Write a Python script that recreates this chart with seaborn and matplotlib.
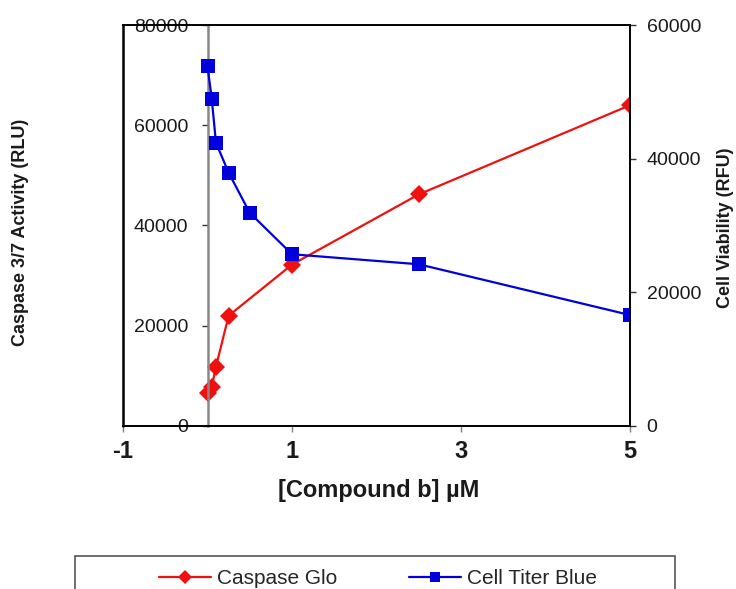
import matplotlib
matplotlib.use("Agg")
import matplotlib.pyplot as plt
from matplotlib.patches import Rectangle
import seaborn as sns
import pandas as pd

# ---- data ----
conc_caspase = [0.0, 0.05, 0.1, 0.25, 1.0, 2.5, 5.0]
caspase_rlu = [6600, 7800, 11800, 22000, 32200, 46200, 64000]

conc_ctb = [0.0, 0.05, 0.1, 0.25, 0.5, 1.0, 2.5, 5.0]
ctb_rfu = [53800, 49000, 42400, 37900, 31900, 25700, 24200, 16600]

x_ticks = [-1, 1, 3, 5]
left_ticks = [0, 20000, 40000, 60000, 80000]
right_ticks = [0, 20000, 40000, 60000]

sns.set_theme(style="white")
plt.rcParams['font.family'] = ['Liberation Sans', 'DejaVu Sans']

df_c = pd.DataFrame({"conc": conc_caspase, "val": caspase_rlu})
df_b = pd.DataFrame({"conc": conc_ctb, "val": ctb_rfu})

fig = plt.figure(figsize=(7.36, 5.89), dpi=100)
ax = fig.add_axes([123/736, 1-426/589, (630-123)/736, (426-25)/589])
ax2 = ax.twinx()

red = "#f01010"
blue = "#0000dd"

sns.lineplot(data=df_c, x="conc", y="val", ax=ax, color=red, marker="D",
             markersize=9, markeredgewidth=0, linewidth=1.6, label="Caspase Glo",
             legend=False)
sns.lineplot(data=df_b, x="conc", y="val", ax=ax2, color=blue, marker="s",
             markersize=10.5, markeredgewidth=0, linewidth=1.6, label="Cell Titer Blue",
             legend=False)

# left axis crosses at x = 0 (gray line), plot frame at x = -1
ax.spines['left'].set_position(('data', 0))
ax.spines['left'].set_color('#888888')
ax.spines['left'].set_linewidth(1.8)
for sp in ['top', 'bottom']:
    ax.spines[sp].set_color('black')
    ax.spines[sp].set_linewidth(1.4)
ax.spines['right'].set_visible(False)
for sp in ['top', 'bottom', 'left']:
    ax2.spines[sp].set_visible(False)
ax2.spines['right'].set_color('black')
ax2.spines['right'].set_linewidth(1.4)
ax.axvline(-1, color='black', linewidth=1.8, clip_on=False, zorder=5)

ax.set_xlim(-1, 5)
ax.set_ylim(0, 80000)
ax2.set_ylim(0, 60000)
ax.set_xticks(x_ticks)
ax.set_xticklabels([str(t) for t in x_ticks], fontsize=17, fontweight="bold")
ax.set_yticks(left_ticks)
ax.set_yticklabels([str(t) for t in left_ticks], fontsize=14)
ax2.set_yticks(right_ticks)
ax2.set_yticklabels([str(t) for t in right_ticks], fontsize=14)

ax.tick_params(axis='x', direction='out', length=4, width=1, color='#808080', pad=6,
               bottom=True, labelsize=17, labelcolor='#1a1a1a')
ax.tick_params(axis='y', direction='out', length=4, width=1, color='#333333', pad=10,
               left=True, labelsize=14, labelcolor='#1a1a1a')
ax2.tick_params(axis='y', direction='out', length=4, width=1, color='#333333', pad=8,
                right=True, labelsize=14, labelcolor='#1a1a1a')
for lab in ax.get_xticklabels():
    lab.set_fontweight("bold")

ax.set_xlabel("")
ax.set_ylabel("")
ax2.set_ylabel("")
fig.text(379/736, 1-491/589, "[Compound b] \u00b5M", fontsize=17, fontweight="bold",
         ha="center", va="center", color='#1a1a1a')
fig.text(21/736, 1-232/589, "Caspase 3/7 Activity (RLU)", rotation=90, fontsize=13,
         fontweight="bold", ha="center", va="center", color='#1a1a1a')
fig.text(725/736, 1-228/589, "Cell Viability (RFU)", rotation=90, fontsize=13,
         fontweight="bold", ha="center", va="center", color='#1a1a1a')

ax.grid(False)
ax2.grid(False)

h1, l1 = ax.get_legend_handles_labels()
h2, l2 = ax2.get_legend_handles_labels()
leg = fig.legend(h1 + h2, l1 + l2, loc="center", ncol=2,
                 bbox_to_anchor=(378/736, 1-579/589), frameon=False,
                 fontsize=15, handlelength=2.5, handletextpad=0.3,
                 columnspacing=3.4, markerscale=0.75)
fig.add_artist(Rectangle((75/736, -0.05), 600/736, 0.05 + (589-556)/589,
                         transform=fig.transFigure, fill=False,
                         edgecolor='#555555', linewidth=1.2))

fig.savefig("out.png", dpi=100)
